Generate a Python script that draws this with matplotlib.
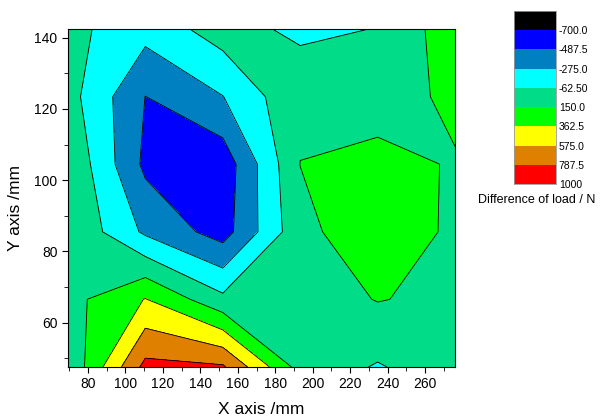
import numpy as np
import matplotlib
matplotlib.use('Agg')
from matplotlib import pyplot as plt
from matplotlib.colors import ListedColormap, BoundaryNorm

plt.rcParams['font.family'] = ['Liberation Sans', 'DejaVu Sans']

# grid nodes (mm)
x_nodes = [69.3, 110.6, 152.0, 193.3, 234.7, 276.0]
y_nodes = [47.6, 66.6, 85.5, 104.5, 123.4, 142.4]

# difference of load (N), one row per y node
load_y47 = [-40, 850, 815, 66, -80, 66]
load_y66 = [77, 370, -12, 30, 160, 97]
load_y85 = [140, -312, -580, 92, 292, 110]
load_y104 = [130, -535, -620, 152, 250, 125]
load_y123 = [20, -490, -280, 115, 0, 220]
load_y142 = [0, -200, 40, -120, -55, 280]

levels = [-700, -487.5, -275, -62.5, 150, 362.5, 575, 787.5, 1000]
level_labels = ['-700.0', '-487.5', '-275.0', '-62.50', '150.0',
                '362.5', '575.0', '787.5', '1000']
colors = ['#0000FF', '#0080C0', '#00FFFF', '#00DC87',
          '#00FF00', '#FFFF00', '#E08000', '#FF0000']
under_color = '#000000'

Z = np.array([load_y47, load_y66, load_y85, load_y104, load_y123, load_y142])
X, Y = np.meshgrid(x_nodes, y_nodes)

cmap = ListedColormap(colors)
cmap.set_under(under_color)
norm = BoundaryNorm(levels, cmap.N)

fig = plt.figure(figsize=(6.01, 4.2), dpi=100)
ax = fig.add_axes([68 / 601, 53 / 420, 387 / 601, 338 / 420])
ax.contourf(X, Y, Z, levels=levels, cmap=cmap, norm=norm, extend='min')
ax.contour(X, Y, Z, levels=levels, colors='black', linewidths=0.6,
           linestyles='solid')

ax.set_xlim(x_nodes[0], x_nodes[-1])
ax.set_ylim(y_nodes[0], y_nodes[-1])
ax.set_xticks(range(80, 261, 20))
ax.set_xticks(range(70, 276, 10), minor=True)
ax.set_yticks(range(60, 141, 20))
ax.set_yticks(range(50, 142, 10), minor=True)
ax.tick_params(which='both', direction='out', labelsize=10)
ax.tick_params(which='major', length=4)
ax.tick_params(which='minor', length=3)
ax.set_xlabel('X axis /mm', fontsize=12.5, va='top')
ax.set_ylabel('Y axis /mm', fontsize=12.5)
ax.xaxis.set_label_coords(0.5, -0.105)
ax.yaxis.set_label_coords(-0.115, 0.47)

# colour scale, -700 at top, 1000 at bottom
cax = fig.add_axes([514 / 601, (420 - 184) / 420, 42 / 601, 173 / 420])
block_colors = [under_color] + colors
for i, c in enumerate(block_colors):
    cax.bar(0.5, 1, bottom=i, width=1, color=c)
cax.set_xlim(0, 1)
cax.set_ylim(len(block_colors), 0)
cax.set_xticks([])
cax.yaxis.tick_right()
cax.set_yticks(range(1, len(block_colors) + 1))
cax.set_yticklabels(level_labels)
cax.tick_params(axis='y', length=0, labelsize=7.5, pad=2)
for s in cax.spines.values():
    s.set_color('#999999')
    s.set_linewidth(0.6)
fig.text(478 / 601, 1 - 200 / 420, 'Difference of load / N', fontsize=9,
         va='center', ha='left')

fig.savefig('out.png', dpi=100)
